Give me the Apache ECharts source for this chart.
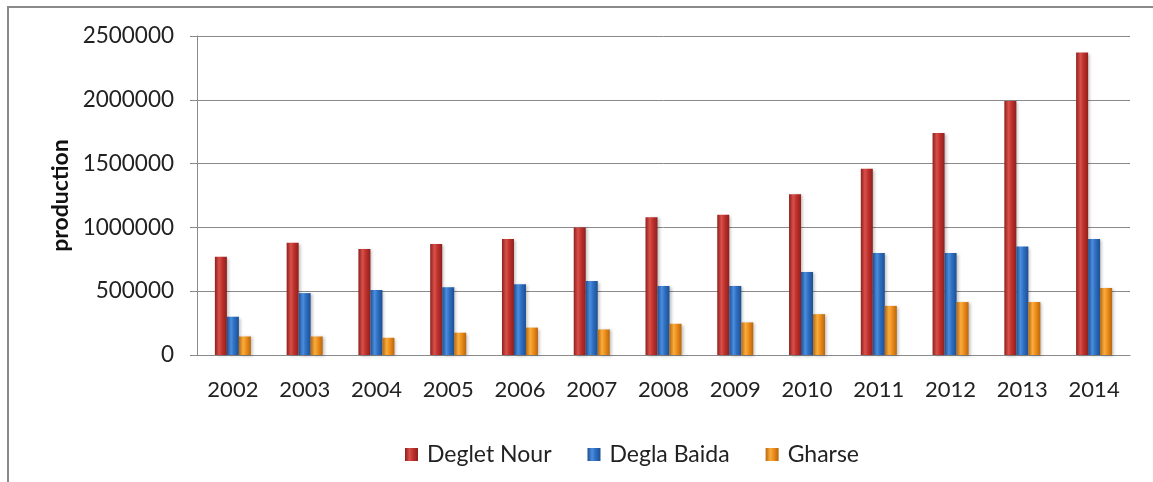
<!DOCTYPE html>
<html>
<head>
<meta charset="utf-8">
<script src="https://cdn.jsdelivr.net/npm/echarts@6/dist/echarts.min.js"></script>
<style>
html,body{margin:0;padding:0;background:#fff;}
#c{width:1153px;height:482px;}
</style>
</head>
<body>
<div id="c"></div>
<script>
var years = ['2002','2003','2004','2005','2006','2007','2008','2009','2010','2011','2012','2013','2014'];
var degletNour = [770000, 880000, 830000, 870000, 910000, 1000000, 1080000, 1100000, 1260000, 1460000, 1740000, 1990000, 2370000];
var deglaBaida = [300000, 485000, 510000, 530000, 555000, 580000, 540000, 540000, 650000, 800000, 800000, 850000, 910000];
var gharse = [145000, 145000, 135000, 175000, 215000, 200000, 245000, 255000, 320000, 385000, 415000, 415000, 525000];
var yTicks = [0, 500000, 1000000, 1500000, 2000000, 2500000];

var FONT = 'Lato';
function grad(dark, mid, light) {
  return new echarts.graphic.LinearGradient(0, 0, 1, 0, [
    {offset: 0, color: dark},
    {offset: 0.35, color: light},
    {offset: 0.6, color: mid},
    {offset: 1, color: dark}
  ]);
}
var cRed = grad('#8e1f1c', '#c0322d', '#d9504a');
var cBlue = grad('#1d4f91', '#2f6fc2', '#4a8ede');
var cOrange = grad('#b8660c', '#ef8f1c', '#f8ad3e');

function mk(name, data, color) {
  return {
    name: name, type: 'bar', data: data, barWidth: 12, barGap: '0%',
    itemStyle: {color: color, shadowColor: 'rgba(0,0,0,0.25)', shadowBlur: 3, shadowOffsetX: 2, shadowOffsetY: 1}
  };
}

var chart = echarts.init(document.getElementById('c'));
chart.setOption({
  backgroundColor: '#ffffff',
  animation: false,
  textStyle: {fontFamily: FONT},
  graphic: [{
    type: 'rect', z: -1, silent: true,
    shape: {x: 8, y: 7, width: 1170, height: 500},
    style: {fill: 'none', stroke: '#8a8a8a', lineWidth: 2}
  }],
  grid: {left: 197, right: 23, top: 36, bottom: 127},
  legend: {
    left: 400, top: 438, itemWidth: 13, itemHeight: 13, itemGap: 36, icon: 'rect',
    textStyle: {fontFamily: FONT, fontSize: 23, color: '#222', padding: [0, 0, 0, 4]},
    data: ['Deglet Nour', 'Degla Baida', 'Gharse']
  },
  xAxis: {
    type: 'category', data: years,
    axisLine: {lineStyle: {color: '#8a8a8a', width: 1}},
    axisTick: {show: false},
    axisLabel: {fontFamily: FONT, fontSize: 22, color: '#222', margin: 24}
  },
  yAxis: {
    type: 'value', min: 0, max: 2500000, interval: 500000,
    name: 'production', nameLocation: 'middle', nameRotate: 90, nameGap: 119,
    nameTextStyle: {fontFamily: FONT, fontSize: 23, fontWeight: 'bold', color: '#111'},
    axisLine: {show: true, lineStyle: {color: '#8a8a8a', width: 1}},
    axisTick: {show: true, length: 7, lineStyle: {color: '#8a8a8a'}},
    splitLine: {lineStyle: {color: '#8a8a8a', width: 1}},
    axisLabel: {fontFamily: FONT, fontSize: 22.5, color: '#222', margin: 23,
      formatter: function (v) { return yTicks.indexOf(v) >= 0 ? String(v) : ''; }}
  },
  series: [
    mk('Deglet Nour', degletNour, cRed),
    mk('Degla Baida', deglaBaida, cBlue),
    mk('Gharse', gharse, cOrange)
  ]
});
</script>
</body>
</html>
